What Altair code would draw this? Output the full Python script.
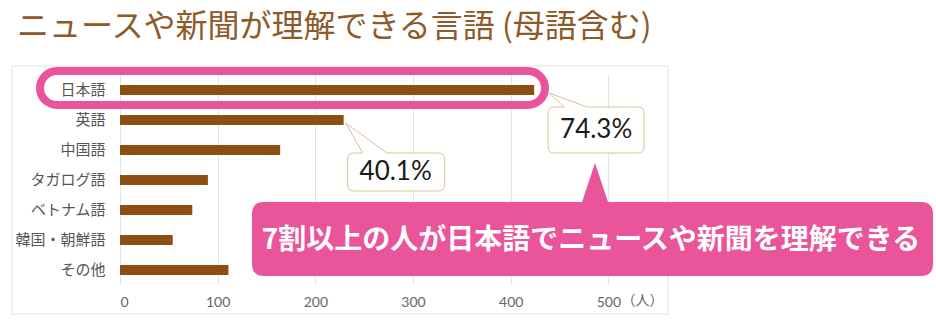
import altair as alt
import pandas as pd

# ---- data ----
languages = ["日本語", "英語", "中国語", "タガログ語", "ベトナム語", "韓国・朝鮮語", "その他"]
counts = [424, 229, 164, 90, 74, 54, 111]
x_ticks = [0, 100, 200, 300, 400, 500]
title_text = "ニュースや新聞が理解できる言語 (母語含む)"
callout_langs = ["日本語", "英語"]
callout_labels = ["74.3%", "40.1%"]
banner_text = "7割以上の人が日本語でニュースや新聞を理解できる"
unit_text = "（人）"

# ---- styles ----
BROWN = "#8B4F14"
TITLE_BROWN = "#8E5A29"
PINK = "#E9549B"
TAN = "#D9C39C"
GRID = "#E4E4E4"
JP = "Noto Sans CJK JP"
NUM = "Lato"

df = pd.DataFrame({"language": languages, "count": counts})
cdf = pd.DataFrame({"language": callout_langs,
                    "count": [counts[languages.index(l)] for l in callout_langs],
                    "label": callout_labels})

x_enc = alt.X("count:Q", scale=alt.Scale(domain=[0, 560], nice=False, zero=True),
              axis=alt.Axis(values=x_ticks, title=None, domain=False, ticks=False,
                            grid=True, gridColor=GRID, gridWidth=1,
                            labelFontSize=14, labelColor="#666", labelFont=NUM,
                            labelPadding=10))
y_enc = alt.Y("language:N", sort=languages,
              scale=alt.Scale(paddingInner=0, paddingOuter=0),
              axis=alt.Axis(title=None, domain=False, ticks=False, labelPadding=15,
                            labelFontSize=15, labelColor="#555", labelFont=JP))

base = alt.Chart(df)

frame = alt.Chart(pd.DataFrame({"k": [0]})).mark_rect(
    fillOpacity=0, stroke="#E2E2E2", strokeWidth=1
).encode(x=alt.value(-108), x2=alt.value(548), y=alt.value(-9), y2=alt.value(239))

bars = base.mark_bar(size=10, color=BROWN).encode(x=x_enc, y=y_enc)

outline = alt.Chart(pd.DataFrame({"k": [0]})).mark_rect(
    fillOpacity=0, stroke=PINK, strokeWidth=8, cornerRadius=17
).encode(x=alt.value(-80), x2=alt.value(425), y=alt.value(-4), y2=alt.value(30))

# callout shapes (paths relative to the bar end, in pixels; size=4 => scale 1)
path_jp = ("M 20 17 L 30 17 L 15 3 L 53 17 L 104 17 Q 110 17 110 23 L 110 57 "
           "Q 110 63 104 63 L 20 63 Q 14 63 14 57 L 14 23 Q 14 17 20 17 Z")
path_en = ("M 10 33 L 19 33 L 2 3 L 43 33 L 95 33 Q 101 33 101 39 L 101 65 "
           "Q 101 71 95 71 L 10 71 Q 4 71 4 65 L 4 39 Q 4 33 10 33 Z")

call_base = alt.Chart(cdf)
ysimple = alt.Y("language:N", sort=languages)
call_jp = call_base.transform_filter(alt.datum.language == "日本語").mark_point(
    shape=path_jp, size=4, filled=True, fill="white", stroke=TAN, strokeWidth=1, opacity=1
).encode(x="count:Q", y=ysimple)
call_en = call_base.transform_filter(alt.datum.language == "英語").mark_point(
    shape=path_en, size=4, filled=True, fill="white", stroke=TAN, strokeWidth=1, opacity=1
).encode(x="count:Q", y=ysimple)
text_jp = call_base.transform_filter(alt.datum.language == "日本語").mark_text(
    dx=62, dy=40, fontSize=26, font=NUM, color="#1a1a1a",
    align="center", baseline="middle"
).encode(x="count:Q", y=ysimple, text="label:N")
text_en = call_base.transform_filter(alt.datum.language == "英語").mark_text(
    dx=52, dy=52, fontSize=26, font=NUM, color="#1a1a1a",
    align="center", baseline="middle"
).encode(x="count:Q", y=ysimple, text="label:N")

# banner
banner_path = ("M 144 127 L 462 127 L 475 88 L 488 127 L 801 127 Q 813 127 813 139 "
               "L 813 189 Q 813 201 801 201 L 144 201 Q 132 201 132 189 L 132 139 "
               "Q 132 127 144 127 Z")
bdf = pd.DataFrame({"t": [banner_text]})
banner = alt.Chart(bdf).mark_point(
    shape=banner_path, size=4, filled=True, fill=PINK, strokeWidth=0, opacity=1
).encode(x=alt.value(0), y=alt.value(0))
banner_txt = alt.Chart(bdf).mark_text(
    fontSize=28, font=JP, fontWeight="bold", color="white", align="center", baseline="middle"
).encode(x=alt.value(471), y=alt.value(166), text="t:N")

unit = alt.Chart(pd.DataFrame({"u": [unit_text]})).mark_text(
    fontSize=14, font=JP, color="#666", align="left", baseline="middle", dx=13
).encode(x=alt.datum(500), y=alt.value(226), text="u:N")

title = alt.Chart(pd.DataFrame({"t": [title_text]})).mark_text(
    fontSize=32, font=JP, color=TITLE_BROWN, align="left", baseline="middle"
).encode(x=alt.value(-103), y=alt.value(-48), text="t:N")

chart = alt.layer(frame, bars, outline, call_jp, call_en, text_jp, text_en,
                  banner, banner_txt, unit, title).properties(
    width=547, height=210,
    autosize=alt.AutoSizeParams(type="none"),
    padding={"left": 120, "top": 75, "right": 269, "bottom": 41},
    background="white",
).configure_view(strokeWidth=0)

chart.save("out.html", embed_options={"renderer": "svg", "actions": False})
